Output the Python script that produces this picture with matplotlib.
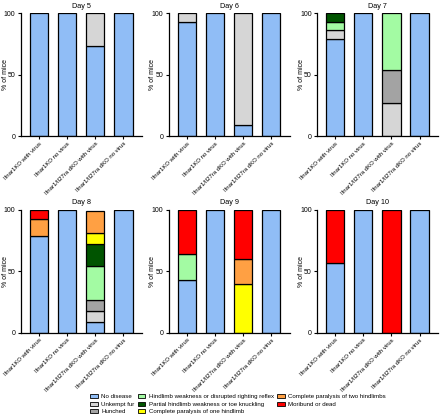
import matplotlib.pyplot as plt
import numpy as np

plt.rcParams['font.family'] = ['Liberation Sans', 'DejaVu Sans']

groups = ['Ifnar1KO with virus', 'Ifnar1KO no virus',
          'Ifnar1/Il27ra dKO with virus', 'Ifnar1/Il27ra dKO no virus']
stages = ['No disease', 'Unkempt fur', 'Hunched',
          'Hindlimb weakness or disrupted righting reflex',
          'Partial hindlimb weakness or toe knuckling',
          'Complete paralysis of one hindlimb',
          'Complete paralysis of two hindlimbs',
          'Moribund or dead']
colors = ['#90bdf6', '#d6d6d6', '#a3a3a3', '#a3fba3',
          '#005400', '#ffff00', '#ffa043', '#ff0000']
days = ['Day 5', 'Day 6', 'Day 7', 'Day 8', 'Day 9', 'Day 10']

# % of mice per stage (rows follow `stages`), columns follow `groups`
day5 = [[100, 100, 73, 100], [0, 0, 27, 0], [0, 0, 0, 0], [0, 0, 0, 0],
        [0, 0, 0, 0], [0, 0, 0, 0], [0, 0, 0, 0], [0, 0, 0, 0]]
day6 = [[93, 100, 9, 100], [7, 0, 91, 0], [0, 0, 0, 0], [0, 0, 0, 0],
        [0, 0, 0, 0], [0, 0, 0, 0], [0, 0, 0, 0], [0, 0, 0, 0]]
day7 = [[79, 100, 0, 100], [7, 0, 27, 0], [0, 0, 27, 0], [7, 0, 46, 0],
        [7, 0, 0, 0], [0, 0, 0, 0], [0, 0, 0, 0], [0, 0, 0, 0]]
day8 = [[79, 100, 9, 100], [0, 0, 9, 0], [0, 0, 9, 0], [0, 0, 27, 0],
        [0, 0, 18, 0], [0, 0, 9, 0], [14, 0, 18, 0], [7, 0, 0, 0]]
day9 = [[43, 100, 0, 100], [0, 0, 0, 0], [0, 0, 0, 0], [21, 0, 0, 0],
        [0, 0, 0, 0], [0, 0, 40, 0], [0, 0, 20, 0], [36, 0, 40, 0]]
day10 = [[57, 100, 0, 100], [0, 0, 0, 0], [0, 0, 0, 0], [0, 0, 0, 0],
         [0, 0, 0, 0], [0, 0, 0, 0], [0, 0, 0, 0], [43, 0, 100, 0]]
all_days = [day5, day6, day7, day8, day9, day10]

fig = plt.figure(figsize=(4.4, 4.15), dpi=100)
lefts = [0.047, 0.383, 0.72]
bottoms = [0.672, 0.198]
w, h = 0.275, 0.296

x = np.arange(len(groups))
handles = []
for i, (title, vals) in enumerate(zip(days, all_days)):
    ax = fig.add_axes([lefts[i % 3], bottoms[i // 3], w, h])
    vals = np.array(vals, dtype=float)
    base = np.zeros(len(groups))
    for s in range(len(stages)):
        m = vals[s] > 0
        ax.bar(x[m], vals[s][m], bottom=base[m], width=0.65,
               color=colors[s], edgecolor='black', linewidth=0.9)
        base += vals[s]
    ax.set_xlim(-0.65, 3.65)
    ax.set_ylim(0, 100)
    ax.set_yticks([0, 50, 100])
    ax.set_xticks(x)
    ax.set_xticklabels(groups, rotation=45, ha='right',
                       rotation_mode='anchor', fontsize=4.3)
    ax.tick_params(axis='y', labelsize=5, length=2.5, width=0.8, pad=1.2)
    ax.tick_params(axis='x', length=2, width=0.8, pad=1.5)
    for sp in ['top', 'right']:
        ax.spines[sp].set_visible(False)
    for sp in ['left', 'bottom']:
        ax.spines[sp].set_linewidth(0.9)
    ax.set_ylabel('% of mice', fontsize=5)
    ax.yaxis.set_label_coords(-0.1, 0.5)
    ax.set_title(title, fontsize=5.2, pad=4)

for s in range(len(stages)):
    handles.append(plt.Rectangle((0, 0), 1, 1, facecolor=colors[s],
                                 edgecolor='black', linewidth=0.6))
fig.legend(handles, stages, ncol=3, loc='upper left',
           bbox_to_anchor=(0.205, 0.05), frameon=False, fontsize=4.4,
           handlelength=1.3, handleheight=0.6, handletextpad=0.5,
           columnspacing=0.5, labelspacing=0.4, borderaxespad=0,
           borderpad=0)

fig.savefig('out.png', dpi=100)
